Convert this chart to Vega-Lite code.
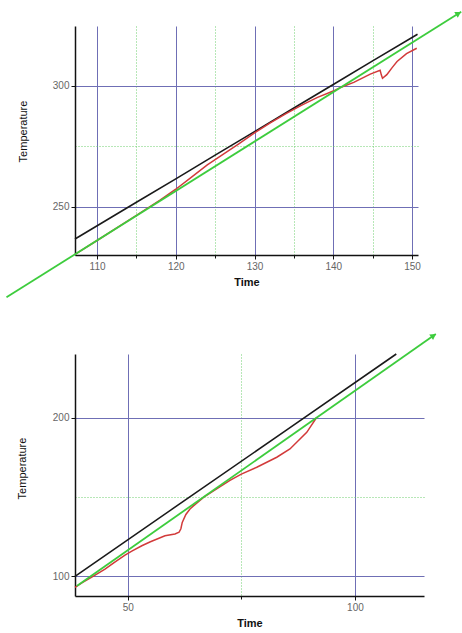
{
  "$schema": "https://vega.github.io/schema/vega-lite/v6.json",
  "autosize": {"type": "pad"},
  "padding": {"left": 2, "top": 8, "right": 0, "bottom": 0},
  "background": "white",
  "bounds": "flush",
  "spacing": 99,
  "config": {
    "view": {"stroke": null},
    "axis": {
      "labelFont": "Liberation Sans",
      "titleFont": "Liberation Sans",
      "labelFontSize": 10,
      "labelColor": "#666666",
      "titleColor": "#111111",
      "titleFontSize": 11,
      "domainColor": "#111111",
      "domainWidth": 1.5,
      "tickColor": "#111111",
      "tickSize": 4,
      "gridWidth": 1
    }
  },
  "datasets": {
    "top": [
      {"s": "black", "t": 107.2, "v": 236.6},
      {"s": "black", "t": 115, "v": 251.8},
      {"s": "black", "t": 120, "v": 261.5},
      {"s": "black", "t": 125, "v": 271.3},
      {"s": "black", "t": 130, "v": 281.0},
      {"s": "black", "t": 135, "v": 290.8},
      {"s": "black", "t": 140, "v": 300.5},
      {"s": "black", "t": 145, "v": 310.3},
      {"s": "black", "t": 150.7, "v": 321.3},
      {"s": "red", "t": 107.2, "v": 230.3},
      {"s": "red", "t": 110, "v": 236.0},
      {"s": "red", "t": 115, "v": 246.4},
      {"s": "red", "t": 118, "v": 252.7},
      {"s": "red", "t": 120, "v": 257.2},
      {"s": "red", "t": 122, "v": 262.2},
      {"s": "red", "t": 124, "v": 267.3},
      {"s": "red", "t": 126, "v": 271.6},
      {"s": "red", "t": 128, "v": 276.0},
      {"s": "red", "t": 130, "v": 280.5},
      {"s": "red", "t": 132, "v": 284.6},
      {"s": "red", "t": 134, "v": 288.5},
      {"s": "red", "t": 136, "v": 292.0},
      {"s": "red", "t": 138, "v": 295.2},
      {"s": "red", "t": 140, "v": 297.8},
      {"s": "red", "t": 141, "v": 299.4},
      {"s": "red", "t": 142.6, "v": 301.4},
      {"s": "red", "t": 144.7, "v": 304.8},
      {"s": "red", "t": 145.95, "v": 306.4},
      {"s": "red", "t": 146.1, "v": 304.5},
      {"s": "red", "t": 146.25, "v": 303.1},
      {"s": "red", "t": 146.8, "v": 304.6},
      {"s": "red", "t": 147.5, "v": 307.6},
      {"s": "red", "t": 148.1, "v": 310.0},
      {"s": "red", "t": 149.3, "v": 313.3},
      {"s": "red", "t": 150.6, "v": 315.5},
      {"s": "green", "t": 98.5, "v": 212.5},
      {"s": "green", "t": 156.25, "v": 330.6},
      {"s": "arrow", "t": 155.9, "v": 329.9}
    ],
    "bottom": [
      {"s": "black", "t": 38.4, "v": 100.0},
      {"s": "black", "t": 60, "v": 142.8},
      {"s": "black", "t": 85, "v": 192.4},
      {"s": "black", "t": 109.1, "v": 240.2},
      {"s": "red", "t": 38.4, "v": 93.1},
      {"s": "red", "t": 40, "v": 96.0},
      {"s": "red", "t": 42, "v": 99.3},
      {"s": "red", "t": 45, "v": 104.5},
      {"s": "red", "t": 47, "v": 108.7},
      {"s": "red", "t": 49.4, "v": 113.4},
      {"s": "red", "t": 51, "v": 116.0},
      {"s": "red", "t": 53.1, "v": 119.3},
      {"s": "red", "t": 55, "v": 121.8},
      {"s": "red", "t": 58.2, "v": 125.6},
      {"s": "red", "t": 60.4, "v": 126.7},
      {"s": "red", "t": 61.3, "v": 127.8},
      {"s": "red", "t": 61.7, "v": 130.0},
      {"s": "red", "t": 62, "v": 134.0},
      {"s": "red", "t": 62.8, "v": 139.0},
      {"s": "red", "t": 63.7, "v": 142.5},
      {"s": "red", "t": 64.4, "v": 144.3},
      {"s": "red", "t": 67, "v": 150.5},
      {"s": "red", "t": 70, "v": 156.0},
      {"s": "red", "t": 72.5, "v": 160.5},
      {"s": "red", "t": 75, "v": 164.5},
      {"s": "red", "t": 78.4, "v": 168.8},
      {"s": "red", "t": 82.8, "v": 175.1},
      {"s": "red", "t": 85.7, "v": 180.3},
      {"s": "red", "t": 89.4, "v": 190.8},
      {"s": "red", "t": 91.6, "v": 200.3},
      {"s": "green", "t": 38.8, "v": 93.9},
      {"s": "green", "t": 117.8, "v": 252.8},
      {"s": "arrow", "t": 117.3, "v": 251.8}
    ]
  },
  "vconcat": [
    {
      "width": 343,
      "height": 229,
      "data": {"name": "top"},
      "encoding": {
        "x": {
          "field": "t", "type": "quantitative",
          "scale": {"domain": [107.2, 150.76], "zero": false, "nice": false},
          "axis": {
            "title": "Time", "titleFontWeight": "bold", "titlePadding": 5,
            "values": [110, 115, 120, 125, 130, 135, 140, 145, 150],
            "labelExpr": "datum.value % 10 === 0 ? datum.label : ''",
            "grid": true,
            "gridColor": {"condition": {"test": "datum.value % 10 !== 0", "value": "#6fcf6f"}, "value": "#6f6fb5"},
            "gridDash": {"condition": {"test": "datum.value % 10 !== 0", "value": [1, 2]}, "value": []},
            "tickSize": {"condition": {"test": "datum.value % 10 !== 0", "value": 3}, "value": 4}
          }
        },
        "y": {
          "field": "v", "type": "quantitative",
          "scale": {"domain": [230, 324.7], "zero": false, "nice": false},
          "axis": {
            "title": "Temperature", "titleFontWeight": "normal",
            "titleX": -52, "titleY": 105, "titleAngle": -90, "titleAlign": "center", "titleBaseline": "middle",
            "values": [250, 275, 300],
            "labelExpr": "datum.value % 50 === 0 ? datum.label : ''",
            "grid": true,
            "gridColor": {"condition": {"test": "datum.value % 50 !== 0", "value": "#6fcf6f"}, "value": "#6f6fb5"},
            "gridDash": {"condition": {"test": "datum.value % 50 !== 0", "value": [1, 2]}, "value": []},
            "tickOpacity": {"condition": {"test": "datum.value % 50 !== 0", "value": 0}, "value": 1}
          }
        }
      },
      "layer": [
        {"transform": [{"filter": "datum.s === 'black'"}], "mark": {"type": "line", "color": "#1a1a1a", "strokeWidth": 1.6}},
        {"transform": [{"filter": "datum.s === 'red'"}], "mark": {"type": "line", "color": "#d23a3a", "strokeWidth": 1.5}},
        {"transform": [{"filter": "datum.s === 'green'"}], "mark": {"type": "line", "color": "#3dcc3d", "strokeWidth": 1.8, "clip": false}},
        {"transform": [{"filter": "datum.s === 'arrow'"}], "mark": {"type": "point", "shape": "triangle-right", "angle": -32, "filled": true, "color": "#3dcc3d", "size": 45, "opacity": 1, "clip": false}}
      ]
    },
    {
      "width": 349,
      "height": 242,
      "data": {"name": "bottom"},
      "encoding": {
        "x": {
          "field": "t", "type": "quantitative",
          "scale": {"domain": [38.4, 115.2], "zero": false, "nice": false},
          "axis": {
            "title": "Time", "titleFontWeight": "bold", "titlePadding": 5,
            "values": [50, 75, 100],
            "labelExpr": "datum.value % 50 === 0 ? datum.label : ''",
            "grid": true,
            "gridColor": {"condition": {"test": "datum.value % 50 !== 0", "value": "#6fcf6f"}, "value": "#6f6fb5"},
            "gridDash": {"condition": {"test": "datum.value % 50 !== 0", "value": [1, 2]}, "value": []},
            "tickSize": {"condition": {"test": "datum.value % 50 !== 0", "value": 3}, "value": 4}
          }
        },
        "y": {
          "field": "v", "type": "quantitative",
          "scale": {"domain": [87.6, 240.2], "zero": false, "nice": false},
          "axis": {
            "title": "Temperature", "titleFontWeight": "normal",
            "titleX": -53, "titleY": 114, "titleAngle": -90, "titleAlign": "center", "titleBaseline": "middle",
            "values": [100, 150, 200],
            "labelExpr": "datum.value % 100 === 0 ? datum.label : ''",
            "grid": true,
            "gridColor": {"condition": {"test": "datum.value % 100 !== 0", "value": "#6fcf6f"}, "value": "#6f6fb5"},
            "gridDash": {"condition": {"test": "datum.value % 100 !== 0", "value": [1, 2]}, "value": []},
            "tickOpacity": {"condition": {"test": "datum.value % 100 !== 0", "value": 0}, "value": 1}
          }
        }
      },
      "layer": [
        {"transform": [{"filter": "datum.s === 'black'"}], "mark": {"type": "line", "color": "#1a1a1a", "strokeWidth": 1.6}},
        {"transform": [{"filter": "datum.s === 'red'"}], "mark": {"type": "line", "color": "#d23a3a", "strokeWidth": 1.5}},
        {"transform": [{"filter": "datum.s === 'green'"}], "mark": {"type": "line", "color": "#3dcc3d", "strokeWidth": 1.8, "clip": false}},
        {"transform": [{"filter": "datum.s === 'arrow'"}], "mark": {"type": "point", "shape": "triangle-right", "angle": -35, "filled": true, "color": "#3dcc3d", "size": 45, "opacity": 1, "clip": false}}
      ]
    }
  ]
}
